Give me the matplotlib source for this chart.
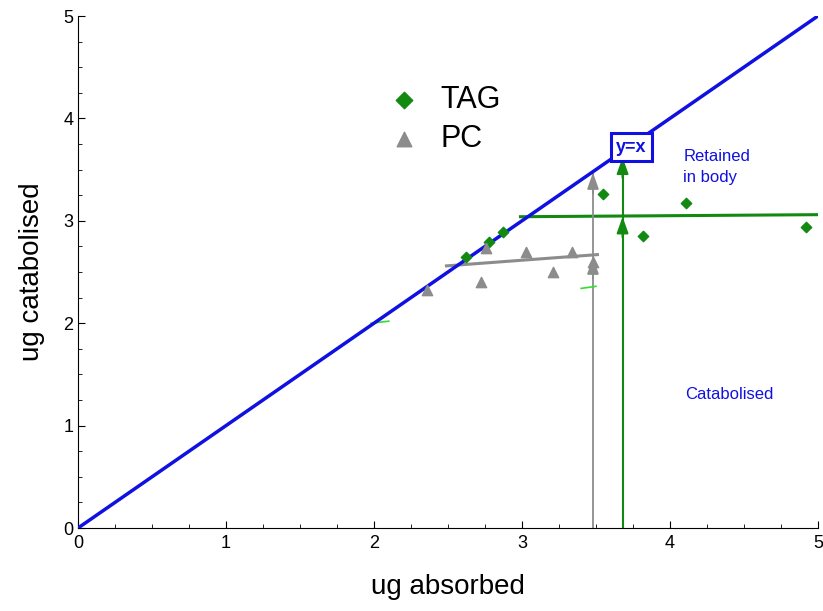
import numpy as np
import matplotlib.pyplot as plt

plt.rcParams['font.family'] = ['Liberation Sans', 'DejaVu Sans']

# TAG (green diamonds) and PC (grey triangles)
tag_x = [2.62, 2.78, 2.87, 3.55, 3.82, 4.11, 4.92]
tag_y = [2.65, 2.79, 2.89, 3.26, 2.85, 3.17, 2.94]
pc_x = [2.36, 2.72, 2.76, 3.03, 3.21, 3.34, 3.48]
pc_y = [2.32, 2.40, 2.73, 2.70, 2.50, 2.70, 2.60]

# fitted plateau lines
tag_fit_x = [2.99, 5.0]
tag_fit_y = [3.04, 3.06]
pc_fit_x = [2.49, 3.51]
pc_fit_y = [2.56, 2.67]

# vertical arrows (x, y of crossing, y of top)
pc_arrow = (3.48, 2.64, 3.47)
tag_arrow = (3.68, 3.04, 3.62)

green = '#128a12'
grey = '#8c8c8c'
blue = '#1010e0'

fig = plt.figure(figsize=(8.23, 6.11), dpi=100)
ax = fig.add_axes([0.0948, 0.1358, 0.899, 0.838])

ax.plot([0, 5], [0, 5], color=blue, lw=2.5, zorder=3)

ax.plot(tag_fit_x, tag_fit_y, color=green, lw=2.2, zorder=2)
ax.plot(pc_fit_x, pc_fit_y, color=grey, lw=2.2, zorder=2)

for (xa, ym, yt), c, lw in [(pc_arrow, grey, 1.3), (tag_arrow, green, 1.5)]:
    ax.plot([xa, xa], [0, yt], color=c, lw=lw, zorder=2)
    for yy in (ym, yt):
        ax.annotate('', xy=(xa, yy), xytext=(xa, yy - 0.2),
                    arrowprops=dict(arrowstyle='-|>,head_width=0.25,head_length=0.7',
                                    color=c, lw=lw,
                                    mutation_scale=14, shrinkA=0, shrinkB=0))

ax.scatter(tag_x, tag_y, marker='D', s=28, color=green, zorder=4)
ax.scatter(pc_x, pc_y, marker='^', s=55, color=grey, zorder=4)

# small green dashes
ax.plot([1.98, 2.1], [2.0, 2.02], color='#33dd33', lw=1.2)
ax.plot([3.4, 3.5], [2.34, 2.36], color='#33dd33', lw=1.2)

# legend
ax.scatter([2.2], [4.18], marker='D', s=70, color=green)
ax.text(2.45, 4.18, 'TAG', fontsize=22, va='center')
ax.scatter([2.2], [3.8], marker='^', s=110, color=grey)
ax.text(2.45, 3.8, 'PC', fontsize=22, va='center')

ax.text(3.74, 3.72, 'y=x', color=blue, fontsize=13, fontweight='bold',
        ha='center', va='center', zorder=5,
        bbox=dict(boxstyle='square,pad=0.3', fc='white', ec=blue, lw=2.2))
ax.text(4.09, 3.7, 'Retained\nin body', color=blue, fontsize=12,
        ha='left', va='top', linespacing=1.5)
ax.text(4.1, 1.3, 'Catabolised', color=blue, fontsize=12, ha='left', va='center')

ax.set_xlim(0, 5)
ax.set_ylim(0, 5)
ax.set_xticks(np.arange(0, 6, 1))
ax.set_yticks(np.arange(0, 6, 1))
ax.set_xticks(np.arange(0, 5.01, 0.25), minor=True)
ax.set_yticks(np.arange(0, 5.01, 0.25), minor=True)
ax.tick_params(which='both', direction='in', labelsize=13)
ax.tick_params(which='major', length=5)
ax.tick_params(which='minor', length=3)
ax.tick_params(axis='x', pad=5)
ax.spines['top'].set_visible(False)
ax.spines['right'].set_visible(False)

ax.set_xlabel('ug absorbed', fontsize=20, labelpad=16)
ax.set_ylabel('ug catabolised', fontsize=20, labelpad=13)

fig.savefig('out.png', dpi=100)
